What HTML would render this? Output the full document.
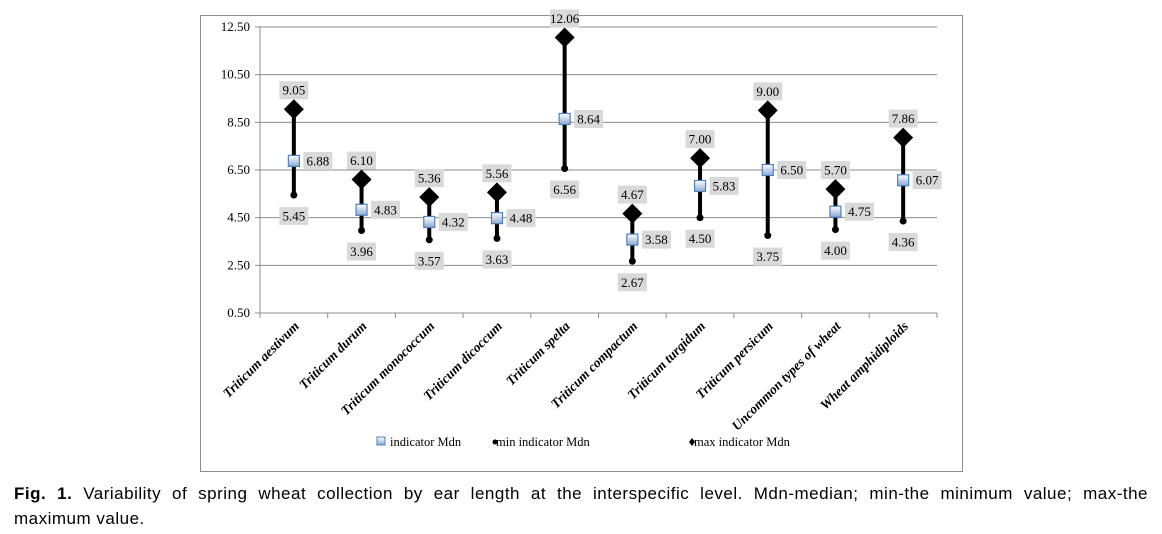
<!DOCTYPE html>
<html><head><meta charset="utf-8"><style>
body{margin:0;background:#fff;width:1162px;height:534px;overflow:hidden;position:relative}
#frame{position:absolute;left:200px;top:15px;width:761px;height:455px;border:1px solid #8c8c8c}
#cap{position:absolute;left:14px;top:481px;width:1134px;font:17px "Liberation Sans",sans-serif;line-height:25px;color:#000;letter-spacing:0.5px}
#cap .l1{text-align:justify;text-align-last:justify}
</style></head><body>
<div id="frame"></div>
<svg id="chart" width="1162" height="534" style="position:absolute;left:0;top:0" font-family="Liberation Serif, serif">
<defs><linearGradient id="g" x1="0" y1="0" x2="0" y2="1"><stop offset="0" stop-color="#ffffff"/><stop offset="1" stop-color="#8fa9d2"/></linearGradient></defs>
</svg>
<div id="cap"><div class="l1"><b>Fig. 1.</b> Variability of spring wheat collection by ear length at the interspecific level. Mdn-median; min-the minimum value; max-the</div><div>maximum value.</div></div>
<script>
const categories=["Triticum aestivum","Triticum durum","Triticum monococcum","Triticum  dicoccum","Triticum spelta","Triticum compactum","Triticum turgidum","Triticum persicum","Uncommon types of wheat","Wheat amphidiploids"];
const medVals=[6.88,4.83,4.32,4.48,8.64,3.58,5.83,6.50,4.75,6.07];
const minVals=[5.45,3.96,3.57,3.63,6.56,2.67,4.50,3.75,4.00,4.36];
const maxVals=[9.05,6.10,5.36,5.56,12.06,4.67,7.00,9.00,5.70,7.86];
const yTicks=[0.5,2.5,4.5,6.5,8.5,10.5,12.5];
const svg=document.getElementById('chart');const NS='http://www.w3.org/2000/svg';
const L=260,R=937,T=27,B=313,ymin=0.5,ymax=12.5;
const y=v=>B-(v-ymin)/(ymax-ymin)*(B-T);
const bw=(R-L)/categories.length;const x=i=>L+bw*(i+0.5);
function mk(t,a,p){const e=document.createElementNS(NS,t);for(const k in a)e.setAttribute(k,a[k]);(p||svg).appendChild(e);return e;}
yTicks.forEach(v=>{
 const g=mk('line',{x1:L-5,x2:R,y1:y(v),y2:y(v),stroke:'#8c8c8c','stroke-width':1});
 
 
 const t=mk('text',{x:L-10,y:y(v)+4,'text-anchor':'end','font-size':13});t.textContent=v.toFixed(2);
 
 
});
const ax=mk('line',{x1:L,x2:L,y1:T,y2:B,stroke:'#8c8c8c'});


for(let i=0;i<=categories.length;i++){const tk=mk('line',{x1:L+bw*i,x2:L+bw*i,y1:B,y2:B+5,stroke:'#8c8c8c'});
 
 }
function lab(txt,cx,cy,name){
 const w=29,h=18;
 const r=mk('rect',{x:cx-w/2,y:cy-h/2,width:w,height:h,fill:'#d9d9d9'});
 
 
 const t=mk('text',{x:cx,y:cy+4.5,'text-anchor':'middle','font-size':13});t.textContent=txt;
 
 
}
categories.forEach((c,i)=>{
 const cx=x(i);
 const ln=mk('line',{x1:cx,x2:cx,y1:y(minVals[i]),y2:y(maxVals[i]),stroke:'#000','stroke-width':4});
 
 
 const d=mk('path',{d:`M${cx} ${y(maxVals[i])-10}L${cx+10} ${y(maxVals[i])}L${cx} ${y(maxVals[i])+10}L${cx-10} ${y(maxVals[i])}Z`,fill:'#000'});
 
 
 const m=mk('circle',{cx:cx,cy:y(minVals[i]),r:3.5,fill:'#000'});
 
 
 const s=mk('rect',{x:cx-5.5,y:y(medVals[i])-5.5,width:11,height:11,fill:'url(#g)',stroke:'#4f81bd','stroke-width':1.2});
 
 
 lab(maxVals[i].toFixed(2),cx,y(maxVals[i])-19,'max-label');
 lab(medVals[i].toFixed(2),cx+24,y(medVals[i]),'median-label');
 lab(minVals[i].toFixed(2),cx,y(minVals[i])+21,'min-label');
 const t=mk('text',{x:0,y:0,'text-anchor':'end','font-size':13.5,'font-weight':'bold','font-style':'italic',transform:`translate(${cx+6},${B+14}) rotate(-45)`});
 t.textContent=c;
 
 
});
const lg=[['indicator Mdn',388],['min indicator Mdn',496],['max indicator Mdn',694]];
const ls=mk('rect',{x:377,y:437,width:8,height:8,fill:'url(#g)',stroke:'#4f81bd'});


const lc=mk('circle',{cx:495,cy:442,r:2.5,fill:'#000'});


const ld=mk('path',{d:'M692 438L695 442L692 446L689 442Z',fill:'#000'});


lg.forEach(([t0,lx])=>{const t=mk('text',{x:lx+(lx==388?2:0),y:446,'font-size':12.5});t.textContent=t0;
 
 });
</script>
</body></html>
